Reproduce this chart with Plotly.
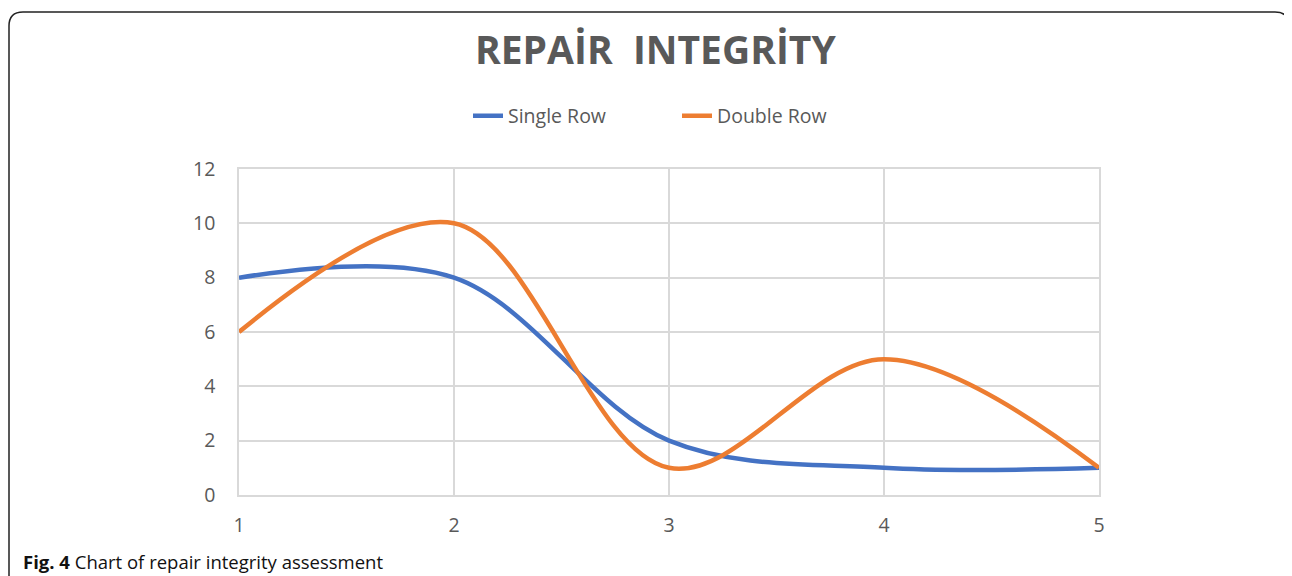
import plotly.graph_objects as go

categories = [1, 2, 3, 4, 5]
single_row = [8, 8, 2, 1, 1]
double_row = [6, 10, 1, 5, 1]
y_ticks = [0, 2, 4, 6, 8, 10, 12]

# the page body adds an 8px offset; figure sized to fit the 1292x576 window
OFF = 8
W, H = 1292 - OFF, 576 - OFF
L, R, T, B = 239 - OFF, 193, 169 - OFF, 81
pw, ph = W - L - R, H - T - B

def px(x):  # page pixel -> paper x
    return (x - OFF - L) / pw

def py(y):  # page pixel -> paper y
    return (H - B - (y - OFF)) / ph

fig = go.Figure()
fig.add_trace(go.Scatter(x=categories, y=single_row, name="Single Row", mode="lines",
                         line=dict(color="#4472C4", width=4.5, shape="spline", smoothing=1.0)))
fig.add_trace(go.Scatter(x=categories, y=double_row, name="Double Row", mode="lines",
                         line=dict(color="#ED7D31", width=4.5, shape="spline", smoothing=1.0)))

# rounded outer border
x0, x1, y0, y1 = px(9), px(1289), py(600), py(12)
rx, ry = 14 / pw, 14 / ph
path = (f"M {x0+rx},{y1} L {x1-rx},{y1} Q {x1},{y1} {x1},{y1-ry} "
        f"L {x1},{y0+ry} Q {x1},{y0} {x1-rx},{y0} L {x0+rx},{y0} "
        f"Q {x0},{y0} {x0},{y0+ry} L {x0},{y1-ry} Q {x0},{y1} {x0+rx},{y1} Z")
fig.add_shape(type="path", path=path, xref="paper", yref="paper",
              line=dict(color="#222222", width=1.5), layer="below")

fig.add_annotation(text="<b>REPAİR  INTEGRİTY</b>", x=px(655), y=py(49), xref="paper", yref="paper",
                   xanchor="center", yanchor="middle", showarrow=False,
                   font=dict(family="Open Sans", size=39, color="#595959"))
fig.add_annotation(text="<b>Fig. 4</b> Chart of repair integrity assessment", x=px(21), y=py(561),
                   xref="paper", yref="paper", xanchor="left", yanchor="middle", showarrow=False,
                   font=dict(family="Open Sans", size=18.5, color="#111111"))

fig.update_layout(
    width=W, height=H,
    margin=dict(l=L, r=R, t=T, b=B),
    paper_bgcolor="white", plot_bgcolor="white",
    font=dict(family="Open Sans", color="#595959"),
    showlegend=True,
    legend=dict(orientation="h", x=px(468), xanchor="left", y=py(116), yanchor="middle",
                font=dict(size=19.5, color="#595959"), entrywidth=164, entrywidthmode="pixels"),
    xaxis=dict(range=[1, 5], tickvals=categories, showgrid=True, gridcolor="#D9D9D9", gridwidth=1.5,
               zeroline=False, showline=True, linecolor="#D9D9D9", linewidth=1.5, mirror=True,
               tickfont=dict(size=19.5, color="#595959"), ticks="", ticklabelstandoff=12),
    yaxis=dict(range=[0, 12], tickvals=y_ticks, showgrid=True, gridcolor="#D9D9D9", gridwidth=1.5,
               zeroline=False, showline=True, linecolor="#D9D9D9", linewidth=1.5, mirror=True,
               tickfont=dict(size=19.5, color="#595959"), ticks="", ticklabelstandoff=18),
)
fig.write_html("out.html")
